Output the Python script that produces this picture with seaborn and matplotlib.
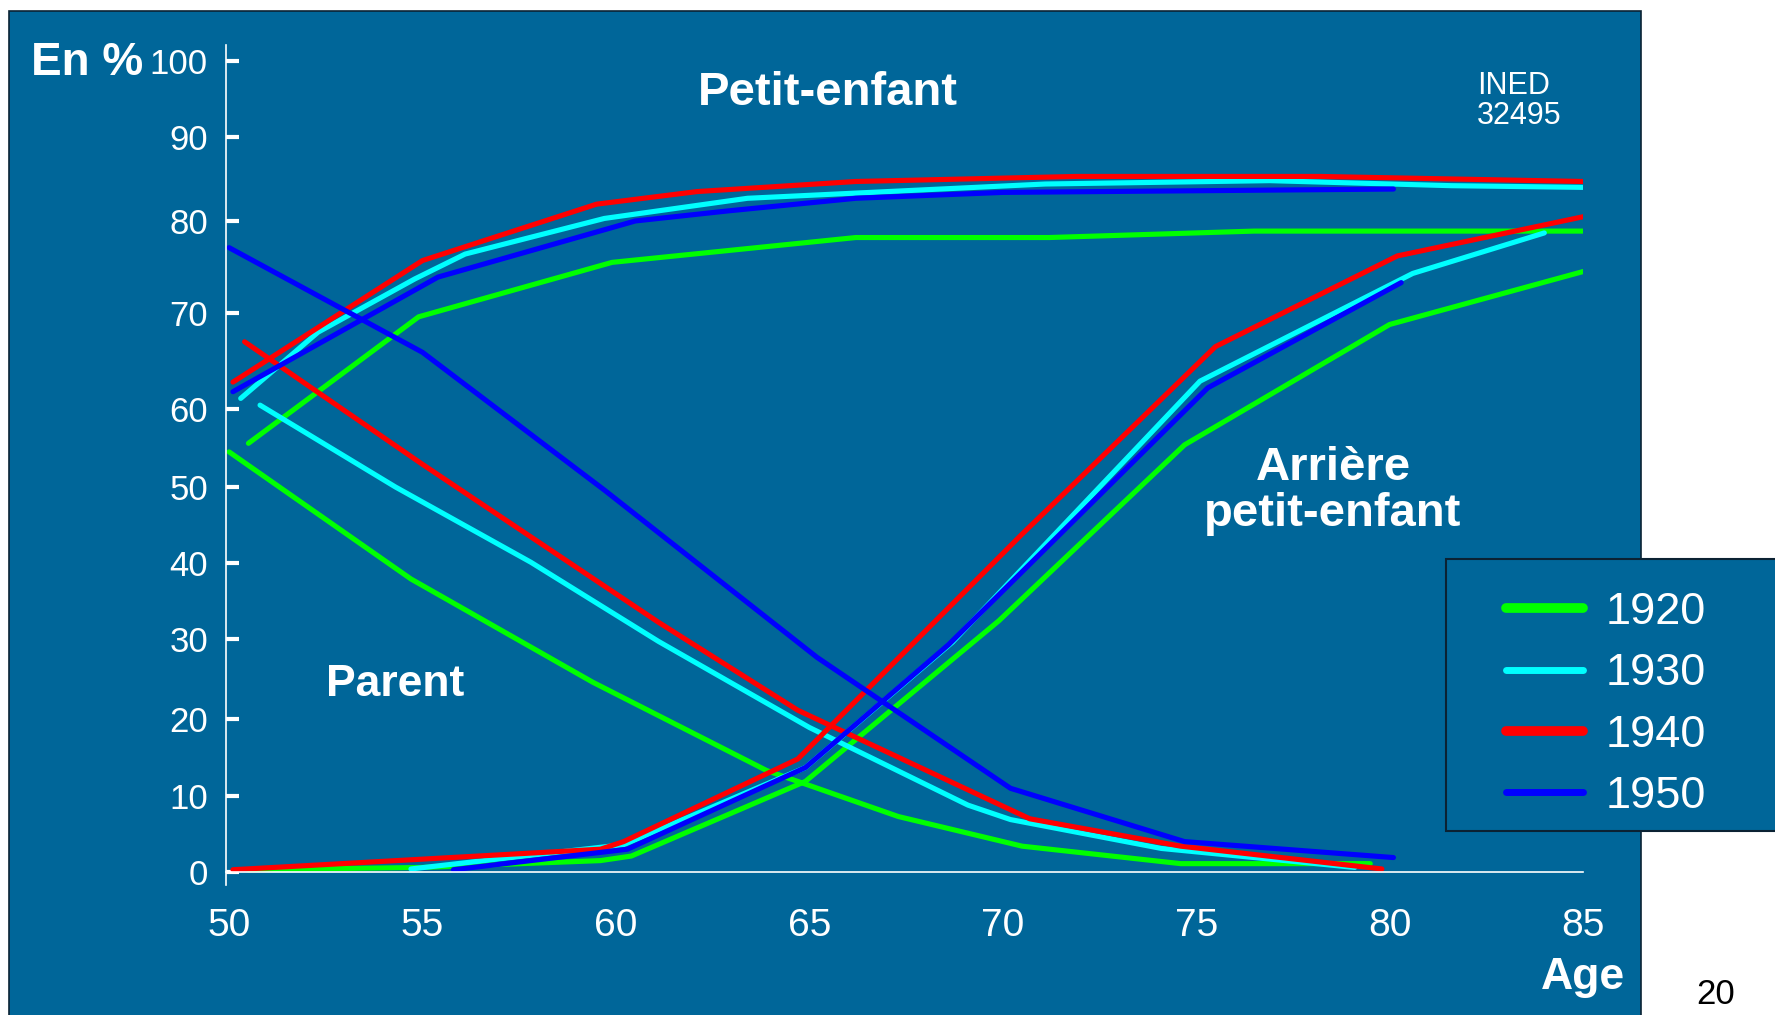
import numpy as np
import pandas as pd
import matplotlib
matplotlib.use("Agg")
import matplotlib.pyplot as plt
from matplotlib.lines import Line2D
from matplotlib.patches import Rectangle
import seaborn as sns

# ---------------- data ----------------
cohorts = ["1920", "1930", "1940", "1950"]

# Parent still alive
parent_1920_age = [50, 54.7, 59.4, 63.9, 67.3, 70.5, 74.6, 79.5]
parent_1920_val = [54.5, 37.9, 24.6, 13.3, 7.3, 3.4, 1.1, 1.1]
parent_1930_age = [50.8, 54.3, 57.8, 61.1, 65.0, 69.1, 70.2, 74.1, 79.1]
parent_1930_val = [60.4, 50.0, 40.1, 29.7, 18.9, 8.8, 6.9, 3.1, 0.6]
parent_1940_age = [50.4, 55.0, 61.1, 64.7, 70.7, 74.6, 79.8]
parent_1940_val = [67.0, 52.9, 32.2, 21.1, 7.0, 3.4, 0.4]
parent_1950_age = [50.0, 55.0, 59.7, 65.2, 70.2, 74.7, 80.1]
parent_1950_val = [77.1, 65.9, 49.6, 27.7, 11.0, 4.0, 1.9]

# Grandchild
petit_1920_age = [50.5, 54.9, 59.9, 66.2, 71.2, 76.5, 85.0]
petit_1920_val = [55.6, 69.6, 75.5, 78.2, 78.2, 78.9, 78.9]
petit_1930_age = [50.3, 52.3, 54.8, 56.1, 59.7, 63.4, 71.1, 76.9, 81.6, 85.0]
petit_1930_val = [61.1, 68.0, 73.7, 76.4, 80.3, 82.7, 84.4, 84.8, 84.2, 84.0]
petit_1940_age = [50.1, 55.0, 59.5, 62.1, 66.2, 71.9, 78.2, 85.0]
petit_1940_val = [62.8, 75.7, 82.0, 83.5, 84.7, 85.3, 85.3, 84.7]
petit_1950_age = [50.1, 55.4, 60.5, 62.9, 66.2, 70.0, 80.1]
petit_1950_val = [61.8, 73.9, 80.0, 81.2, 82.7, 83.4, 83.8]

# Great-grandchild
arriere_1920_age = [50.5, 55.0, 59.6, 60.4, 64.9, 69.9, 74.7, 80.0, 85.0]
arriere_1920_val = [0.3, 0.6, 1.5, 2.1, 11.9, 32.4, 55.4, 68.8, 74.5]
arriere_1930_age = [54.7, 60.2, 64.9, 68.7, 75.1, 80.6, 84.0]
arriere_1930_val = [0.4, 3.6, 13.7, 29.6, 62.9, 74.3, 78.7]
arriere_1940_age = [50.1, 59.6, 60.2, 64.7, 70.5, 75.5, 80.2, 85.0]
arriere_1940_val = [0.3, 3.0, 4.0, 14.8, 43.8, 66.5, 76.2, 80.5]
arriere_1950_age = [55.8, 60.3, 64.9, 68.6, 75.3, 80.3]
arriere_1950_val = [0.3, 3.0, 13.7, 29.3, 62.2, 73.3]

y_ticks = [0, 10, 20, 30, 40, 50, 60, 70, 80, 90, 100]
x_ticks = [50, 55, 60, 65, 70, 75, 80, 85]

# ---------------- style ----------------
BG = "#006699"
palette = {"1920": "#00ff00", "1930": "#00ffff", "1940": "#ff0000", "1950": "#0000ff"}
W, H = 1775, 1015
# irregular vertical axis of the original slide (pixel rows of the ticks)
TICK_ROWS = [872, 796, 719, 639, 563, 487, 409, 313, 221, 137, 61]

sns.set_style("white")
plt.rcParams["font.family"] = ["Liberation Sans", "DejaVu Sans"]

series = {
    ("1920", "parent"): (parent_1920_age, parent_1920_val),
    ("1930", "parent"): (parent_1930_age, parent_1930_val),
    ("1940", "parent"): (parent_1940_age, parent_1940_val),
    ("1950", "parent"): (parent_1950_age, parent_1950_val),
    ("1920", "petit"): (petit_1920_age, petit_1920_val),
    ("1930", "petit"): (petit_1930_age, petit_1930_val),
    ("1940", "petit"): (petit_1940_age, petit_1940_val),
    ("1950", "petit"): (petit_1950_age, petit_1950_val),
    ("1920", "arriere"): (arriere_1920_age, arriere_1920_val),
    ("1930", "arriere"): (arriere_1930_age, arriere_1930_val),
    ("1940", "arriere"): (arriere_1940_age, arriere_1940_val),
    ("1950", "arriere"): (arriere_1950_age, arriere_1950_val),
}
rows = []
for (coh, curve), (ages, vals) in series.items():
    for a, v in zip(ages, vals):
        rows.append({"age": a, "value": v, "cohort": coh, "curve": curve})
df = pd.DataFrame(rows)

# piecewise-linear value scale
V = np.array([-10.0] + y_ticks + [110.0])
P = np.array([TICK_ROWS[0] + 76] + TICK_ROWS + [TICK_ROWS[-1] - 76], dtype=float)


def fwd(v):
    return -np.interp(v, V, P)


def inv(t):
    return np.interp(-np.asarray(t), P[::-1], V[::-1])


def fx(px):
    return px / W


def fy(py):
    return 1 - py / H


fig = plt.figure(figsize=(W / 100, H / 100), dpi=100, facecolor="white")
fig.add_artist(Rectangle((fx(9), fy(1030)), fx(1641) - fx(9), fy(11) - fy(1030),
                         transform=fig.transFigure, facecolor=BG,
                         edgecolor="#0b2233", lw=1.2, zorder=-1))

ax = fig.add_axes([fx(226), fy(885), fx(1583) - fx(226), fy(45) - fy(885)])
ax.set_facecolor("none")
ax.set_yscale("function", functions=(fwd, inv))

sns.lineplot(data=df, x="age", y="value", hue="cohort", units="curve",
             estimator=None, sort=False, palette=palette, hue_order=cohorts,
             linewidth=3.7, legend=False, ax=ax)

ax.set_xlim(49.92, 85.0)
ax.set_ylim(-1.71, 102.1)
ax.set_xlabel("")
ax.set_ylabel("")
ax.set_yticks(y_ticks)
ax.set_xticks(x_ticks)
ax.set_yticklabels([str(t) for t in y_ticks])
ax.set_xticklabels([str(t) for t in x_ticks])
ax.minorticks_off()

for s in ["top", "right"]:
    ax.spines[s].set_visible(False)
ax.spines["left"].set_color("white")
ax.spines["left"].set_linewidth(1.2)
ax.spines["bottom"].set_position(("data", 0))
ax.spines["bottom"].set_color("white")
ax.spines["bottom"].set_linewidth(1.2)

ax.tick_params(axis="y", left=True, direction="in", length=9, width=3,
               color="white", labelcolor="white", labelsize=25, pad=13)
ax.tick_params(axis="x", bottom=False, length=0, labelcolor="white",
               labelsize=28, pad=26)

# legend
fig.add_artist(Rectangle((fx(1446), fy(831)), fx(1800) - fx(1446), fy(559) - fy(831),
                         transform=fig.transFigure, facecolor=BG,
                         edgecolor="#0b2233", lw=1.5, zorder=4))
handles = [Line2D([], [], color=palette[c], lw=lw) for c, lw in zip(cohorts, [7, 5, 7, 5])]
fig.legend(handles, cohorts, loc="upper left", bbox_to_anchor=(fx(1506), fy(592)),
           frameon=False, fontsize=32.5, handlelength=1.7, handletextpad=0.5,
           labelspacing=0.45, borderpad=0, borderaxespad=0, labelcolor="white")

# texts
fig.text(fx(31), fy(63), "En %", color="white", fontsize=33, fontweight="bold",
         ha="left", va="center")
fig.text(fx(828), fy(93), "Petit-enfant", color="white", fontsize=34,
         fontweight="bold", ha="center", va="center")
fig.text(fx(395), fy(684), "Parent", color="white", fontsize=32,
         fontweight="bold", ha="center", va="center")
fig.text(fx(1333), fy(491), "Arrière\npetit-enfant", color="white", fontsize=34,
         fontweight="bold", ha="center", va="center", linespacing=1.05)
fig.text(fx(1477), fy(71), "INED\n32495", color="white", fontsize=22,
         ha="left", va="top", linespacing=1.0)
fig.text(fx(1625), fy(978), "Age", color="white", fontsize=32,
         fontweight="bold", ha="right", va="center")
fig.text(fx(1716), fy(995), "20", color="black", fontsize=25,
         ha="center", va="center")

fig.savefig("out.png", dpi=100, facecolor="white")
